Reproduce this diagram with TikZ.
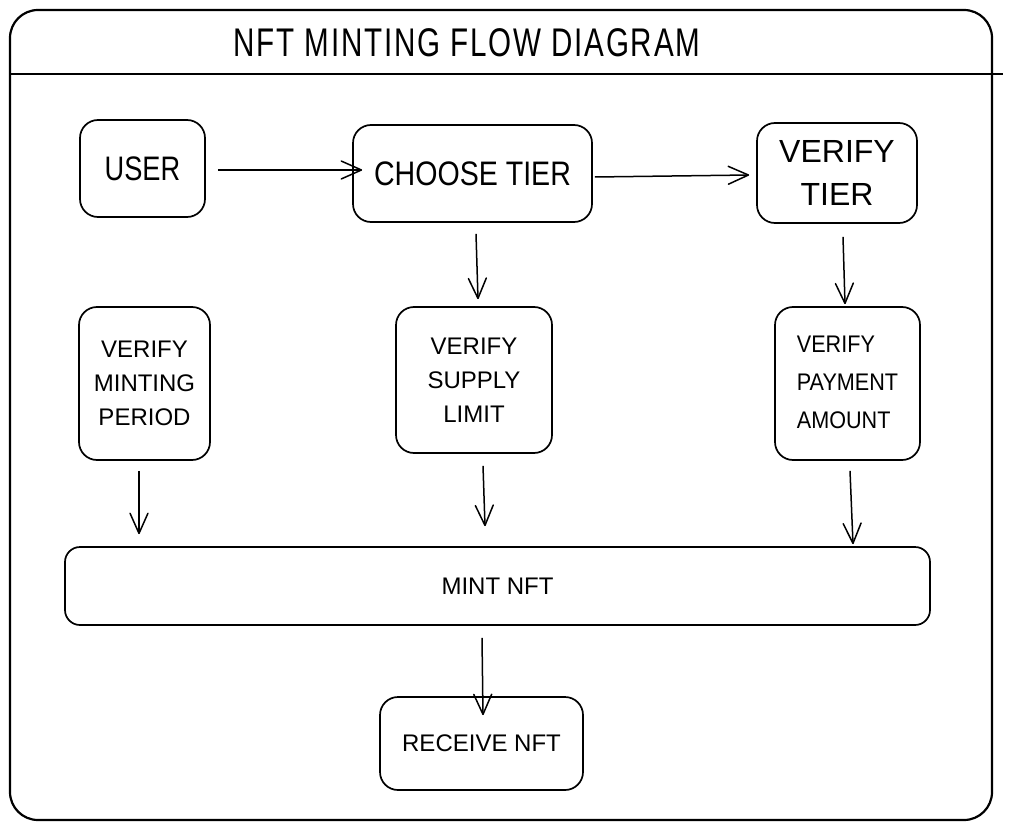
\documentclass[tikz,border=0pt]{standalone}
\usepackage{fontspec}
\setmainfont{Liberation Sans}
\usetikzlibrary{arrows.meta}
\tikzset{
  box/.style={draw, line width=1.7pt, rounded corners=18pt, inner sep=0pt, align=center},
  bigtext/.style={font=\fontsize{34}{40}\selectfont},
  midtext/.style={font=\fontsize{24}{34}\selectfont},
  flow/.style={line width=1.5pt, -{Straight Barb[angle=48:22pt, line width=1.5pt, round]}},
  frame/.style={draw, line width=2.2pt, rounded corners=28pt},
}
\begin{document}
\begin{tikzpicture}[x=1pt,y=-1pt]
\useasboundingbox (0,0) rectangle (1011,829);
% outer frame
\draw[frame] (10,10) rectangle (992,820);
\coordinate (divL) at (10,74);
\coordinate (divR) at (1003,74);
\draw[line width=2pt] (divL) -- (divR);
\node (title) at (467,43) {\fontsize{40}{48}\selectfont\addfontfeatures{LetterSpace=6}\scalebox{0.74}[1]{NFT MINTING FLOW DIAGRAM}};

% nodes
\node[box, bigtext, minimum width=125pt, minimum height=97pt] (user) at (142.5,168.5) {\scalebox{0.8}[1]{USER}};
\node[box, bigtext, minimum width=239pt, minimum height=97pt] (choose) at (472.5,173.5) {\scalebox{0.84}[1]{CHOOSE TIER}};
\node[box, font=\fontsize{32}{43}\selectfont, minimum width=160pt, minimum height=100pt] (vtier) at (837,173) {VERIFY\\TIER};
\node[box, midtext, minimum width=131pt, minimum height=153pt] (vmint) at (144.5,383.5) {VERIFY\\MINTING\\PERIOD};
\node[box, midtext, minimum width=156pt, minimum height=146pt] (vsupply) at (474,380) {VERIFY\\SUPPLY\\LIMIT};
\node[box, midtext, align=left, minimum width=145pt, minimum height=153pt] (vpay) at (847.5,383.5) {\scalebox{0.9}[1]{\begin{tabular}{@{}l@{}}VERIFY\\[4pt]PAYMENT\\[4pt]AMOUNT\end{tabular}}};
\node[box, midtext, rounded corners=15pt, minimum width=865pt, minimum height=78pt] (mint) at (497.5,586) {MINT NFT};
\node[box, midtext, minimum width=203pt, minimum height=93pt] (receive) at (481.5,743.5) {RECEIVE NFT};

% connectors
\draw[flow] ([shift={(12,1.5)}]user.east) -- ([shift={(10,-3.5)}]choose.west);
\draw[flow] ([shift={(2,3.5)}]choose.east) -- ([shift={(-7,2)}]vtier.west);
\draw[flow] ([shift={(3.5,11)}]choose.south) -- ([shift={(4,-7)}]vsupply.north);
\draw[flow] ([shift={(6,13)}]vtier.south) -- ([shift={(-2.5,-2)}]vpay.north);
\draw[flow] ([shift={(-5.5,10)}]vmint.south) -- ([shift={(-358.5,-12)}]mint.north);
\draw[flow] ([shift={(9,12)}]vsupply.south) -- ([shift={(-12.5,-20)}]mint.north);
\draw[flow] ([shift={(2.5,10)}]vpay.south) -- ([shift={(355.5,-2)}]mint.north);
\draw[flow] ([shift={(-15.5,12)}]mint.south) -- ([shift={(1.5,19)}]receive.north);
\end{tikzpicture}
\end{document}
